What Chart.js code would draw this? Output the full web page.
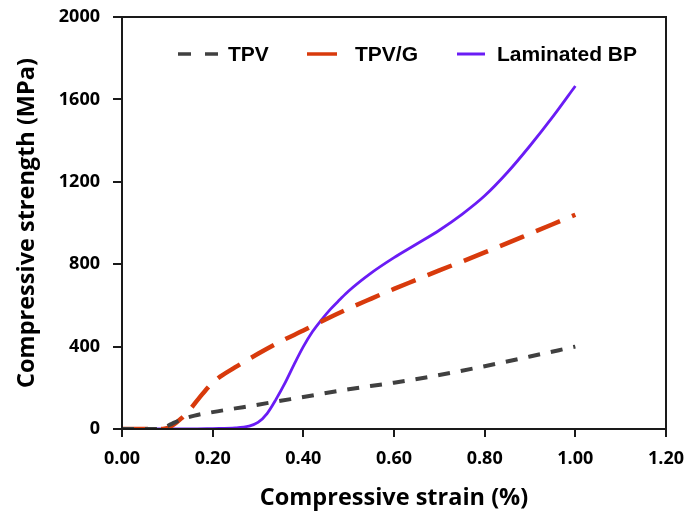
<!DOCTYPE html>
<html>
<head>
<meta charset="utf-8">
<script src="https://cdn.jsdelivr.net/npm/chart.js@4/dist/chart.umd.min.js"></script>
<style>
  html, body { margin: 0; padding: 0; background: #fff; }
  #wrap { width: 689px; height: 514px; }
</style>
</head>
<body>
<div id="wrap"><canvas id="chart" width="689" height="514"></canvas></div>
<script>
// strain (fraction) / strength (MPa)
const tpvStrain = [0, 0.07, 0.09, 0.11, 0.13, 0.16, 0.2, 0.25, 0.3, 0.35, 0.4, 0.45, 0.5, 0.6, 0.7, 0.8, 0.9, 1.0];
const tpvStress = [0, 0, 5, 25, 45, 65, 82, 100, 118, 137, 155, 175, 193, 225, 262, 305, 352, 400];

const tpvgStrain = [0, 0.09, 0.11, 0.13, 0.15, 0.17, 0.2, 0.25, 0.3, 0.35, 0.4, 0.45, 0.5, 0.55, 0.6, 0.65, 0.7, 0.75, 0.8, 0.85, 0.9, 0.95, 1.0];
const tpvgStress = [0, 0, 15, 50, 95, 150, 225, 300, 365, 425, 478, 533, 585, 633, 680, 725, 770, 813, 857, 902, 948, 994, 1040];

const bpStrain = [0, 0.15, 0.2, 0.25, 0.28, 0.3, 0.32, 0.34, 0.36, 0.38, 0.4, 0.42, 0.44, 0.46, 0.48, 0.5, 0.55, 0.6, 0.65, 0.7, 0.75, 0.8, 0.85, 0.9, 0.95, 1.0];
const bpStress = [0, 0, 2, 5, 14, 32, 75, 145, 225, 315, 400, 472, 530, 582, 627, 670, 758, 832, 898, 965, 1042, 1132, 1245, 1375, 1515, 1665];

const seriesNames = ["TPV", "TPV/G", "Laminated BP"];
const xTicks = [0, 0.2, 0.4, 0.6, 0.8, 1.0, 1.2];
const yTicks = [0, 400, 800, 1200, 1600, 2000];

const toPoints = (xs, ys) => xs.map((x, i) => ({ x: x, y: ys[i] }));

const tickFont = { family: "'Open Sans', 'Liberation Sans', sans-serif", size: 18, weight: "bold" };
const titleFont = { family: "'Open Sans', 'Liberation Sans', sans-serif", size: 23.5, weight: "bold" };

// box around the plot + legend in the upper part of it
const framePlugin = {
  id: "frame",
  afterDraw(chart) {
    const ctx = chart.ctx;
    const a = chart.chartArea;
    ctx.save();
    ctx.strokeStyle = "#1a1a1a";
    ctx.lineWidth = 2;
    ctx.strokeRect(a.left, a.top, a.right - a.left, a.bottom - a.top);

    const legendY = 54;
    const items = [
      { x: 178, len: 40, dash: [13, 14], width: 3.5, textX: 228 },
      { x: 307, len: 30, dash: [], width: 3.5, textX: 355 },
      { x: 457, len: 28, dash: [], width: 3, textX: 497 }
    ];
    ctx.font = "bold 21px 'Liberation Sans', Arial, sans-serif";
    ctx.textBaseline = "middle";
    chart.data.datasets.forEach((ds, i) => {
      const it = items[i];
      ctx.strokeStyle = ds.borderColor;
      ctx.lineWidth = it.width;
      ctx.setLineDash(it.dash);
      ctx.beginPath();
      ctx.moveTo(it.x, legendY);
      ctx.lineTo(it.x + it.len, legendY);
      ctx.stroke();
      ctx.setLineDash([]);
      ctx.fillStyle = "#000";
      ctx.fillText(ds.label, it.textX, legendY + 1);
    });
    ctx.restore();
  }
};

new Chart(document.getElementById("chart"), {
  type: "scatter",
  data: {
    datasets: [
      {
        label: seriesNames[0],
        data: toPoints(tpvStrain, tpvStress),
        borderColor: "#404040",
        borderWidth: 4,
        borderDash: [12, 11]
      },
      {
        label: seriesNames[1],
        data: toPoints(tpvgStrain, tpvgStress),
        borderColor: "#d83a0c",
        borderWidth: 4.5,
        borderDash: [26, 13]
      },
      {
        label: seriesNames[2],
        data: toPoints(bpStrain, bpStress),
        borderColor: "#6a1cf5",
        borderWidth: 2.8
      }
    ].map(ds => Object.assign(ds, {
      showLine: true,
      pointRadius: 0,
      cubicInterpolationMode: "monotone",
      fill: false
    }))
  },
  options: {
    responsive: false,
    animation: false,
    layout: { padding: { top: 17, right: 23, left: 0, bottom: 0 } },
    plugins: { legend: { display: false }, tooltip: { enabled: false } },
    scales: {
      x: {
        type: "linear",
        min: 0,
        max: 1.2,
        afterBuildTicks(scale) { scale.ticks = xTicks.map(v => ({ value: v })); },
        afterFit(scale) {
          scale.height = 85;
          // end labels may hang past the plot box
          scale.paddingLeft = 0;
          scale.paddingRight = 0;
        },
        grid: { drawOnChartArea: false, drawTicks: true, tickLength: 8, color: "#1a1a1a", lineWidth: 2 },
        border: { display: true, color: "#1a1a1a", width: 2 },
        ticks: {
          color: "#000",
          font: tickFont,
          padding: 11,
          maxRotation: 0,
          callback: v => Number(v).toFixed(2)
        },
        title: {
          display: true,
          text: "Compressive strain (%)",
          color: "#000",
          font: titleFont,
          padding: { top: 0, bottom: 2 }
        }
      },
      y: {
        type: "linear",
        min: 0,
        max: 2000,
        afterBuildTicks(scale) { scale.ticks = yTicks.map(v => ({ value: v })); },
        afterFit(scale) {
          scale.width = 122;
          scale.paddingTop = 0;
          scale.paddingBottom = 0;
        },
        grid: { drawOnChartArea: false, drawTicks: true, tickLength: 9, color: "#1a1a1a", lineWidth: 2 },
        border: { display: true, color: "#1a1a1a", width: 2 },
        ticks: {
          color: "#000",
          font: tickFont,
          padding: 13,
          callback: v => String(v)
        },
        title: {
          display: true,
          text: "Compressive strength (MPa)",
          color: "#000",
          font: titleFont,
          padding: { top: 13, bottom: 0 }
        }
      }
    }
  },
  plugins: [framePlugin]
});
</script>
</body>
</html>
